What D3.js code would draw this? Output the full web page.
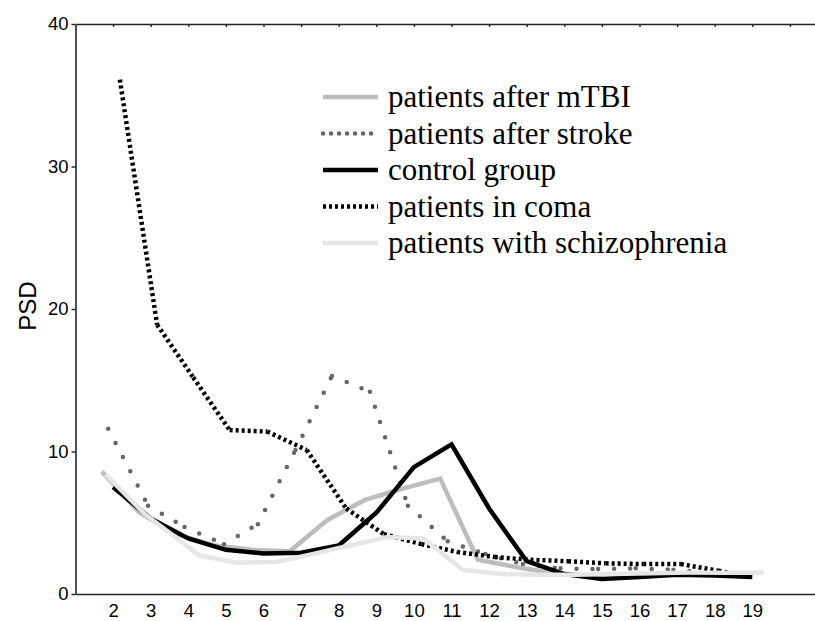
<!DOCTYPE html>
<html>
<head>
<meta charset="utf-8">
<script src="https://cdn.jsdelivr.net/npm/d3@7"></script>
<style>
  html, body { margin: 0; padding: 0; background: #fff; }
  svg { display: block; }
</style>
</head>
<body>
<svg id="chart" width="815" height="621"></svg>
<script>
// ---- data ----
const xTicks = [2,3,4,5,6,7,8,9,10,11,12,13,14,15,16,17,18,19];
const yTicks = [0,10,20,30,40];
const yLabel = "PSD";

const seriesNames = ["patients after mTBI","patients after stroke","control group","patients in coma","patients with schizophrenia"];

const mtbiFreq = [1.7,2.7,3.7,4.7,5.7,6.7,7.7,8.7,9.7,10.7,11.7,12.7,13.7,14.7,15.7,16.7,17.7,18.7];
const mtbiPSD  = [8.6,5.7,4.2,3.4,3.1,3.0,5.2,6.6,7.4,8.1,2.4,1.9,1.45,1.3,1.3,1.35,1.4,1.3];

const strokeFreq = [1.87,2.93,3.9,4.95,5.85,6.85,7.82,8.83,9.84,10.9,11.9,12.9,13.9,14.9,15.9,16.9,17.9,18.9];
const strokePSD  = [11.6,6.2,4.7,3.5,4.9,10.1,15.3,14.2,6.2,3.7,2.8,2.1,1.8,1.75,1.8,1.7,1.5,1.3];

const controlFreq = [2,3,4,5,6,7,8,9,10,11,12,13,14,15,16,17,18,19];
const controlPSD  = [7.5,5.3,3.9,3.1,2.85,2.9,3.4,5.7,8.9,10.5,6.0,2.3,1.4,1.05,1.2,1.35,1.3,1.2];

const comaFreq = [2.18,3.17,4.13,5.1,6.1,7.15,8.2,9.2,10.2,11.15,12.15,13.1,14.1,15.1,16.1,17.1,18.1,19.0];
const comaPSD  = [36.1,18.9,15.2,11.5,11.4,10.1,6.0,4.2,3.5,2.95,2.6,2.4,2.3,2.15,2.1,2.1,1.63,1.2];

const schizoFreq = [1.8,2.85,4.3,5.3,6.35,7.3,8.3,9.3,10.25,11.3,12.3,13.3,14.3,15.3,16.3,17.3,18.3,19.3];
const schizoPSD  = [8.4,5.6,2.7,2.2,2.25,2.8,3.4,4.0,3.9,1.7,1.4,1.35,1.35,1.4,1.45,1.5,1.5,1.5];

// ---- layout ----
const svg = d3.select("#chart");
const plotLeft = 75.5, plotTop = 24, plotBottom = 594;
const x = d3.scaleLinear().domain([1, 21]).range([plotLeft, 827.5]);
const y = d3.scaleLinear().domain([0, 40]).range([plotBottom, plotTop]);

const styles = [
  {color:"#bdbdbd", width:4.5, dash:null, cap:"butt"},
  {color:"#666666", width:4.5, dash:"0,16", cap:"round"},
  {color:"#000000", width:4.5, dash:null, cap:"butt"},
  {color:"#000000", width:4.5, dash:"3,3", cap:"butt"},
  {color:"#e6e6e6", width:4.5, dash:null, cap:"butt"}
];
const series = [
  {f:mtbiFreq, v:mtbiPSD},
  {f:strokeFreq, v:strokePSD},
  {f:controlFreq, v:controlPSD},
  {f:comaFreq, v:comaPSD},
  {f:schizoFreq, v:schizoPSD}
];

const line = d3.line().x(d => x(d[0])).y(d => y(d[1]));
const plot = svg.append("g");
series.forEach((s, i) => {
  const st = styles[i];
  const pts = s.f.map((f, j) => [f, s.v[j]]);
  if (st.dash) {
    d3.pairs(pts).forEach(seg => {
      plot.append("path").attr("d", line(seg)).attr("fill","none")
        .attr("stroke", st.color).attr("stroke-width", st.width)
        .attr("stroke-dasharray", st.dash).attr("stroke-linecap", st.cap);
    });
  } else {
    plot.append("path").attr("d", line(pts)).attr("fill","none")
      .attr("stroke", st.color).attr("stroke-width", st.width)
      .attr("stroke-linejoin","miter");
  }
});

// ---- axes ----
const axisColor = "#222";
const xb = svg.append("g").attr("transform", `translate(0,${plotBottom})`)
  .call(d3.axisBottom(x).tickValues(xTicks).tickSize(0).tickPadding(10).tickFormat(d3.format("d")));
xb.select(".domain").attr("stroke", axisColor).attr("stroke-width", 1.6);
xb.selectAll("text").attr("font-family","Liberation Sans, Arial, sans-serif").attr("font-size", 18.5).attr("fill","#000");

const xt = svg.append("g").attr("transform", `translate(0,${plotTop})`)
  .call(d3.axisBottom(x).tickValues(d3.range(2, 21)).tickSize(3).tickSizeOuter(0).tickFormat(""));
xt.select(".domain").attr("stroke", axisColor).attr("stroke-width", 1.6);
xt.selectAll(".tick line").attr("stroke", axisColor).attr("stroke-width", 1.4);

const yl = svg.append("g").attr("transform", `translate(${plotLeft},0)`)
  .call(d3.axisLeft(y).tickValues(yTicks).tickSize(4).tickSizeOuter(0).tickPadding(3).tickFormat(d3.format("d")));
yl.select(".domain").attr("stroke", axisColor).attr("stroke-width", 1.6);
yl.selectAll(".tick line").attr("stroke", axisColor).attr("stroke-width", 1.4);
yl.selectAll("text").attr("font-family","Liberation Sans, Arial, sans-serif").attr("font-size", 18.5).attr("fill","#000");

svg.append("text").attr("transform", "translate(36,306) rotate(-90)")
  .attr("text-anchor","middle").attr("font-family","Liberation Sans, Arial, sans-serif")
  .attr("font-size", 24).text(yLabel);

// ---- legend ----
const legY = d3.scaleLinear().domain([0, 4]).range([97, 243]);
const leg = svg.append("g");
seriesNames.forEach((name, i) => {
  const st = styles[i];
  const yy = legY(i);
  leg.append("line").attr("x1", 323).attr("x2", 378).attr("y1", yy).attr("y2", yy)
    .attr("stroke", st.color).attr("stroke-width", st.width)
    .attr("stroke-dasharray", st.dash === "0,16" ? "0,8" : st.dash)
    .attr("stroke-linecap", st.cap);
  leg.append("text").attr("x", 388).attr("y", yy + 10)
    .attr("font-family","Liberation Serif, Times New Roman, serif")
    .attr("font-size", 31).attr("fill","#000").text(name);
});
</script>
</body>
</html>
